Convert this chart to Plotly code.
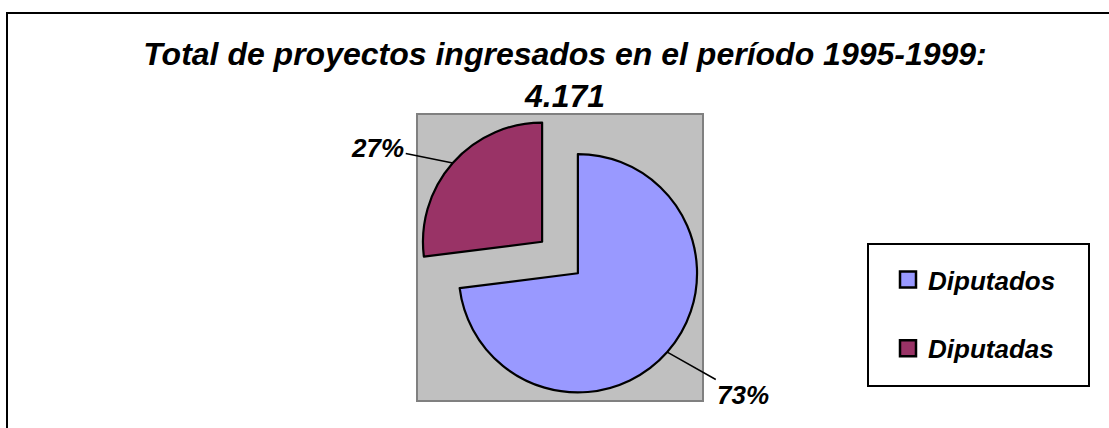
import math
import plotly.graph_objects as go

W, H = 1109, 428

# Datos
categorias = ["Diputados", "Diputadas"]
porcentajes = [73, 27]
colores = ["#9999FF", "#993366"]
titulo = "Total de proyectos ingresados en el período 1995-1999:"
total_proyectos = "4.171"

FONT = "Arial, 'Liberation Sans', sans-serif"
PULL = 0.2

# caja gris del área del gráfico (px, desde arriba)
box_x = [417, 703]
box_y = [114, 401]
dom_x = [box_x[0] / W, box_x[1] / W]
dom_y = [1 - box_y[1] / H, 1 - box_y[0] / H]

fig = go.Figure()

fig.add_trace(go.Pie(
    labels=categorias,
    values=porcentajes,
    marker=dict(colors=colores, line=dict(color="black", width=2.2)),
    sort=False,
    direction="clockwise",
    rotation=0,
    pull=[PULL] * len(porcentajes),
    textinfo="none",
    showlegend=False,
    domain=dict(x=dom_x, y=dom_y),
    hoverinfo="label+percent",
))

# entradas de la leyenda
for cat, col in zip(categorias, colores):
    fig.add_trace(go.Scatter(
        x=[None], y=[None],
        mode="markers",
        name=cat,
        legendgroup=cat,
        marker=dict(symbol="square", size=16, color=col,
                    line=dict(color="black", width=2.5)),
    ))

# etiquetas de porcentaje con líneas guía
side = min(box_x[1] - box_x[0], box_y[1] - box_y[0])
r = side / (2 + 2 * PULL)
cx = (box_x[0] + box_x[1]) / 2
cy = (box_y[0] + box_y[1]) / 2
total = sum(porcentajes)
offsets = [(76, 43), (-75, -15)]
start = 0
for v, (ox, oy) in zip(porcentajes, offsets):
    mid = (start + v / 2) / total * 2 * math.pi
    start += v
    px = cx + (1 + PULL) * r * math.sin(mid)
    py = cy - (1 + PULL) * r * math.cos(mid)
    fig.add_annotation(
        x=px / W, y=1 - py / H, xref="paper", yref="paper",
        text=f"{v / total * 100:.0f}%",
        showarrow=True, arrowhead=0, arrowwidth=1.5, arrowcolor="black",
        ax=ox, ay=oy, standoff=0,
        font=dict(family=FONT, size=26, color="black", weight="bold", style="italic"),
    )

fig.add_shape(type="rect", xref="paper", yref="paper",
              x0=dom_x[0], x1=dom_x[1], y0=dom_y[0], y1=dom_y[1],
              fillcolor="#C0C0C0", line=dict(color="#808080", width=2), layer="below")
fig.add_shape(type="rect", xref="paper", yref="paper",
              x0=868 / W, x1=1089 / W, y0=1 - 386 / H, y1=1 - 244 / H,
              fillcolor="white", line=dict(color="black", width=2), layer="below")
fig.add_shape(type="rect", xref="paper", yref="paper",
              x0=7 / W, x1=1.05, y0=-0.05, y1=1 - 13 / H,
              line=dict(color="black", width=2), layer="above")

fig.update_layout(
    title=dict(
        text=f"{titulo}<br>{total_proyectos}",
        x=565 / W, xanchor="center",
        y=1 - 65 / H, yanchor="top", yref="container",
        font=dict(family=FONT, size=32, color="black", weight="bold", style="italic"),
    ),
    legend=dict(
        x=888 / W, xanchor="left",
        y=1 - 256 / H, yanchor="top",
        bgcolor="rgba(0,0,0,0)", borderwidth=0,
        tracegroupgap=32,
        font=dict(family=FONT, size=26, color="black", weight="bold", style="italic"),
    ),
    xaxis=dict(visible=False),
    yaxis=dict(visible=False),
    plot_bgcolor="rgba(0,0,0,0)",
    paper_bgcolor="white",
    margin=dict(l=0, r=0, t=0, b=0),
    width=W, height=H,
    showlegend=True,
)

fig.write_html("out.html", config={"displayModeBar": False},
               post_script="document.body.style.margin='0';")
